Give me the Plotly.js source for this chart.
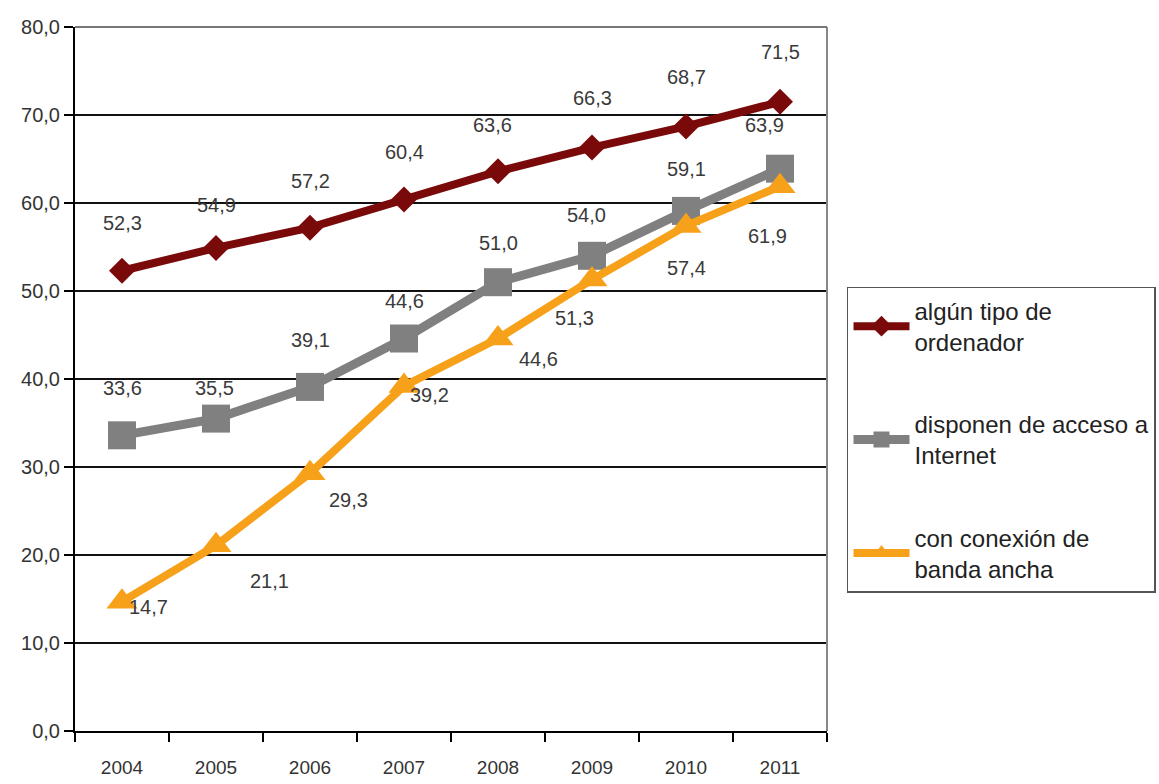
<!DOCTYPE html>
<html>
<head>
<meta charset="utf-8">
<script src="https://cdn.plot.ly/plotly-3.0.1.min.js"></script>
<style>html,body{margin:0;padding:0;background:#fff;}#chart{width:1159px;height:784px;}</style>
</head>
<body>
<div id="chart"></div>
<script>
const years = ['2004','2005','2006','2007','2008','2009','2010','2011'];
const ordenador = [52.3, 54.9, 57.2, 60.4, 63.6, 66.3, 68.7, 71.5];
const internet = [33.6, 35.5, 39.1, 44.6, 51.0, 54.0, 59.1, 63.9];
const bandaAncha = [14.7, 21.1, 29.3, 39.2, 44.6, 51.3, 57.4, 61.9];
const seriesNames = ['algún tipo de<br>ordenador', 'disponen de acceso a<br>Internet', 'con conexión de<br>banda ancha'];

// label pixel offsets (style only)
const offOrd = {dx:[0,0,0,0,-6,0,0,0], dy:[48,43,47,47,46,50,49,50]};
const offInt = {dx:[0,-2,0,0,0,-6,0,-16], dy:[47,31,47,38,39,41,42,44]};
const offBan = {dx:[26,53,38,25,40,-18,0,-13], dy:[-5,-36,-27,-9,-20,-38,-42,-50]};

const FONT = '"Liberation Sans", Arial, sans-serif';
const fmt = v => v.toFixed(1).replace('.', ',');

const colors = ['#7a0a0a', '#808080', '#f7a11a'];

const traces = [
  {x: years, y: ordenador, name: seriesNames[0], legendgroup:'a', type:'scatter', mode:'lines+markers',
   line:{color:colors[0], width:8}, marker:{symbol:'diamond', size:20, color:colors[0]}},
  {x: years, y: internet, name: seriesNames[1], legendgroup:'b', type:'scatter', mode:'lines+markers',
   line:{color:colors[1], width:9}, marker:{symbol:'square', size:28, color:colors[1]}},
  {x: years, y: bandaAncha, name: seriesNames[2], legendgroup:'c', type:'scatter', mode:'lines+markers',
   line:{color:colors[2], width:8}, marker:{symbol:'triangle-up', size:27, color:colors[2]}}
];

const annotations = [];
function addLabels(vals, off) {
  vals.forEach((v, i) => {
    annotations.push({x: i, y: v, xref:'x', yref:'y', text: fmt(v), showarrow:false,
      xshift: off.dx[i], yshift: off.dy[i], font:{family:FONT, size:20, color:'#3a3a3a'}});
  });
}
addLabels(ordenador, offOrd);
addLabels(internet, offInt);
addLabels(bandaAncha, offBan);

const layout = {
  width:1159, height:784,
  margin:{l:75, r:332, t:27, b:53, autoexpand:false},
  paper_bgcolor:'#fff', plot_bgcolor:'#fff',
  separators: ',.',
  showlegend:true,
  legend:{xref:'container', yref:'container', x:0.7308, xanchor:'left', y:0.634, yanchor:'top',
    bgcolor:'#fff', bordercolor:'#555', borderwidth:1.5,
    font:{family:FONT, size:24, color:'#222'}, tracegroupgap:48, itemwidth:56},
  xaxis:{type:'category', tickson:'boundaries', ticks:'outside', ticklen:9, tickwidth:1.5, tickcolor:'#000',
    showline:true, linecolor:'#000', linewidth:2, showgrid:false, range:[-0.5,7.5], ticklabelstandoff:18,
    tickfont:{family:FONT, size:19, color:'#333'}, fixedrange:true},
  yaxis:{range:[0,80], dtick:10, tickformat:'.1f', ticks:'outside', ticklen:9, tickwidth:1.5, tickcolor:'#000',
    showline:true, linecolor:'#000', linewidth:2, showgrid:true, gridcolor:'#111', gridwidth:2, zeroline:false,
    tickfont:{family:FONT, size:20, color:'#333'}, fixedrange:true},
  shapes:[{type:'line', xref:'paper', yref:'paper', x0:1, x1:1, y0:0, y1:1, line:{color:'#888', width:2}},
          {type:'line', xref:'paper', yref:'paper', x0:0, x1:1, y0:1, y1:1, line:{color:'#777', width:2}}],
  annotations: annotations
};

Plotly.newPlot('chart', traces, layout, {displayModeBar:false, staticPlot:true});
</script>
</body>
</html>
